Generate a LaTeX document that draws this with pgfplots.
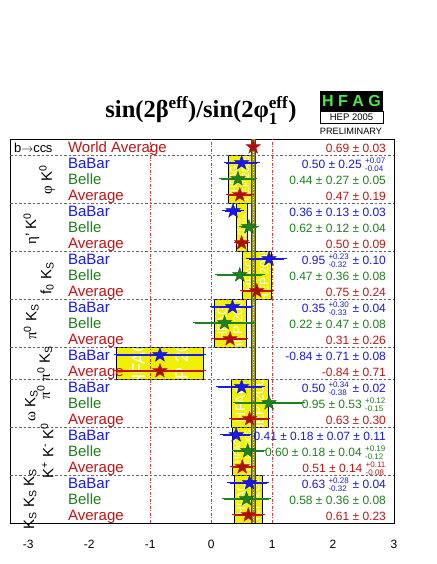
\documentclass[border=0pt]{standalone}
\usepackage{pgfplots}
\pgfplotsset{compat=1.18}
\usepackage{pgfplotstable}
\usepackage{amsmath}
\usepackage{fontspec}
\setmainfont{Liberation Sans}
\newfontfamily\symf{Liberation Serif}
\definecolor{cblue}{RGB}{25,25,235}
\definecolor{cgreen}{RGB}{30,130,30}
\definecolor{cred}{RGB}{195,20,20}
\definecolor{cyel}{RGB}{240,240,0}
\definecolor{colive}{RGB}{150,150,45}
\definecolor{cline}{RGB}{215,60,60}
\definecolor{hfgreen}{RGB}{70,235,70}
\newcommand{\fsL}{\fontsize{15}{15}\selectfont}
\newcommand{\fsV}{\fontsize{12}{12}\selectfont}
\newcommand{\ud}[2]{\ensuremath{^{\text{#1}}_{\text{#2}}}}

\pgfdeclareplotmark{fstar}{%
  \pgfpathmoveto{\pgfpointpolar{90}{\pgfplotmarksize}}%
  \pgfpathlineto{\pgfpointpolar{126}{0.4\pgfplotmarksize}}%
  \pgfpathlineto{\pgfpointpolar{162}{\pgfplotmarksize}}%
  \pgfpathlineto{\pgfpointpolar{198}{0.4\pgfplotmarksize}}%
  \pgfpathlineto{\pgfpointpolar{234}{\pgfplotmarksize}}%
  \pgfpathlineto{\pgfpointpolar{270}{0.4\pgfplotmarksize}}%
  \pgfpathlineto{\pgfpointpolar{306}{\pgfplotmarksize}}%
  \pgfpathlineto{\pgfpointpolar{342}{0.4\pgfplotmarksize}}%
  \pgfpathlineto{\pgfpointpolar{18}{\pgfplotmarksize}}%
  \pgfpathlineto{\pgfpointpolar{54}{0.4\pgfplotmarksize}}%
  \pgfpathclose
  \pgfusepathqfillstroke}

% BaBar: x y errplus errminus
\pgfplotstableread{
x y ep em
0.50 22.5 0.260 0.253
0.36 19.5 0.133 0.133
0.95 16.5 0.251 0.335
0.35 13.5 0.303 0.332
-0.84 10.5 0.714 0.714
0.50 8.5 0.341 0.381
0.41 5.5 0.222 0.222
0.63 2.5 0.283 0.322
}\babar
\pgfplotstableread{
x y ep em
0.44 21.5 0.275 0.275
0.62 18.5 0.126 0.126
0.47 15.5 0.369 0.369
0.22 12.5 0.477 0.477
0.95 7.5 0.543 0.551
0.60 4.5 0.265 0.220
0.58 1.5 0.369 0.369
}\belle
\pgfplotstableread{
x y ep em
0.69 23.5 0.03 0.03
0.47 20.5 0.19 0.19
0.50 17.5 0.09 0.09
0.75 14.5 0.24 0.24
0.31 11.5 0.26 0.26
-0.84 9.5 0.71 0.71
0.63 6.5 0.30 0.30
0.51 3.5 0.178 0.161
0.61 0.5 0.23 0.23
}\avg

% yellow box with watermark: x1 x2 y1 y2 fontsize
\newcommand{\ybox}[5]{%
  \pgfplotsextra{%
    \pgfmathsetmacro{\xa}{#1+0.25*(#2-#1)}%
    \pgfmathsetmacro{\xb}{#1+0.75*(#2-#1)}%
    \pgfmathsetmacro{\ym}{(#3+#4)/2}%
    \fill[cyel] (axis cs:#1,#3) rectangle (axis cs:#2,#4);
    \begin{scope}
      \clip (axis cs:#1,#3) rectangle (axis cs:#2,#4);
      \node[rotate=90, text=white, inner sep=0pt, font=\fontsize{#5}{#5}\selectfont] at (axis cs:\xa,\ym) {HFAG};
      \node[rotate=90, text=white, inner sep=0pt, font=\fontsize{#5}{#5}\selectfont] at (axis cs:\xb,\ym) {HEP 2005};
    \end{scope}
    \draw[black, line width=0.6pt] (axis cs:#1,#3) rectangle (axis cs:#2,#4);
  }}

\begin{document}
\begin{tikzpicture}
\useasboundingbox (0,0) rectangle (436pt,564pt);
% title
\node[anchor=base, font=\symf\bfseries\fontsize{24.5}{24.5}\selectfont, inner sep=0pt] at (201pt,446pt)
  {sin(2β$^{\text{eff}}$)/sin(2φ$^{\text{eff}}_{\text{1}}$)};
% HFAG logo
\fill[black] (320pt,473pt) rectangle (383pt,453pt);
\node[text=hfgreen, font=\bfseries\fontsize{16}{16}\selectfont, inner sep=0pt] at (351.5pt,463pt) {H F A G};
\draw[black, line width=0.8pt] (320pt,453pt) rectangle (383pt,441pt);
\node[font=\fontsize{9.5}{9.5}\selectfont, inner sep=0pt] at (351.5pt,447pt) {HEP 2005};
\node[font=\fontsize{9.2}{9.2}\selectfont, inner sep=0pt] at (351pt,433pt) {PRELIMINARY};

\begin{axis}[
  at={(10pt,41pt)}, anchor=south west,
  scale only axis, width=384pt, height=384pt,
  xmin=-3.3, xmax=3, ymin=0, ymax=24,
  xtick={-3,-2,-1,0,1,2,3},
  ytick=\empty,
  major tick length=0pt,
  xticklabel style={font=\fsV, yshift=-14pt},
  /pgf/number format/assume math mode=true,
  axis line style={black, line width=0.6pt},
  clip=false,
  error bars/error bar style={line width=1.1pt},
  error bars/error mark options={line width=1pt, mark size=2.5pt},
]
% yellow boxes
\ybox{0.28}{0.66}{20}{23}{10}
\ybox{0.41}{0.59}{17}{20}{5.5}
\ybox{0.51}{0.99}{14}{17}{12}
\ybox{0.05}{0.57}{11}{14}{13}
\ybox{-1.55}{-0.13}{9}{11}{18}
\ybox{0.33}{0.93}{6}{9}{14}
\ybox{0.349}{0.688}{3}{6}{9}
\ybox{0.38}{0.84}{0}{3}{12}
% world average band
\fill[colive] (axis cs:0.66,0) rectangle (axis cs:0.72,24);
\draw[black!75, line width=0.7pt] (axis cs:0.66,0) -- (axis cs:0.66,24);
\draw[black!75, line width=0.7pt] (axis cs:0.72,0) -- (axis cs:0.72,24);
\draw[yellow!70!white, line width=0.8pt, dash pattern=on 1pt off 1.5pt] (axis cs:0.69,0) -- (axis cs:0.69,24);
% red reference lines
\foreach \xv in {-1,0,1} {
  \edef\tmp{\noexpand\draw[cline, line width=0.8pt, dash pattern=on 3pt off 1.5pt on 1pt off 1.5pt] (axis cs:\xv,0) -- (axis cs:\xv,24);}\tmp
}
% separators
\foreach \yv in {3,6,9,11,14,17,20,23} {
  \edef\tmp{\noexpand\draw[black!60, line width=0.6pt, dash pattern=on 2.5pt off 2pt] (axis cs:-3.3,\yv) -- (axis cs:3,\yv);}\tmp
}
% points
\addplot[only marks, mark=fstar, mark size=7.5pt, mark options={fill=cblue, draw=cblue!70!black, line width=0.4pt}, draw=cblue,
  error bars/.cd, x dir=both, x explicit, error bar style={cblue}]
  table[x=x, y=y, x error plus=ep, x error minus=em] {\babar};
\addplot[only marks, mark=fstar, mark size=7.5pt, mark options={fill=cgreen, draw=cgreen!70!black, line width=0.4pt}, draw=cgreen,
  error bars/.cd, x dir=both, x explicit, error bar style={cgreen}]
  table[x=x, y=y, x error plus=ep, x error minus=em] {\belle};
\addplot[only marks, mark=fstar, mark size=7.5pt, mark options={fill=cred!85!black, draw=cred, line width=0.4pt}, draw=cred,
  error bars/.cd, x dir=both, x explicit, error bar style={cred}]
  table[x=x, y=y, x error plus=ep, x error minus=em] {\avg};

% row labels
\node[anchor=base west, font=\fontsize{13}{13}\selectfont, inner sep=0pt] at (axis cs:-3.235,23.15) {b$\rightarrow$cc\kern-0.05em s};
\node[anchor=base west, font=\fsL, text=cred, inner sep=0pt] at (axis cs:-2.35,23.15) {World Average};
\foreach \yb in {22.5,19.5,16.5,13.5,10.5,8.5,5.5,2.5} {
  \edef\tmp{\noexpand\node[anchor=base west, font=\noexpand\fsL, text=cblue, inner sep=0pt] at (axis cs:-2.35,\yb-0.35) {BaBar};}\tmp
}
\foreach \yb in {21.5,18.5,15.5,12.5,7.5,4.5,1.5} {
  \edef\tmp{\noexpand\node[anchor=base west, font=\noexpand\fsL, text=cgreen, inner sep=0pt] at (axis cs:-2.35,\yb-0.35) {Belle};}\tmp
}
\foreach \yb in {20.5,17.5,14.5,11.5,9.5,6.5,3.5,0.5} {
  \edef\tmp{\noexpand\node[anchor=base west, font=\noexpand\fsL, text=cred, inner sep=0pt] at (axis cs:-2.35,\yb-0.35) {Average};}\tmp
}
% channel labels
\node[rotate=90, font=\fsL, inner sep=0pt] at (axis cs:-2.69,21.45) {{\symf φ} K\textsuperscript{0}};
\node[rotate=90, font=\fsL, inner sep=0pt] at (axis cs:-2.95,18.4) {{\symf η}' K\textsuperscript{0}};
\node[rotate=90, font=\fsL, inner sep=0pt] at (axis cs:-2.69,15.3) {f\textsubscript{0} K\textsubscript{S}};
\node[rotate=90, font=\fsL, inner sep=0pt] at (axis cs:-2.95,12.55) {{\symf π}\textsuperscript{0} K\textsubscript{S}};
\node[rotate=90, font=\fsL, inner sep=0pt] at (axis cs:-2.73,9.4) {{\symf π}\textsuperscript{0} {\symf π}\textsuperscript{0} K\textsubscript{S}};
\node[rotate=90, font=\fsL, inner sep=0pt] at (axis cs:-2.95,7.3) {{\symf ω} K\textsubscript{S}};
\node[rotate=90, font=\fsL, inner sep=0pt] at (axis cs:-2.69,4.5) {K\textsuperscript{+} K\textsuperscript{-} K\textsuperscript{0}};
\node[rotate=90, font=\fsL, inner sep=0pt] at (axis cs:-2.97,1.5) {K\textsubscript{S} K\textsubscript{S} K\textsubscript{S}};

% values
\newcommand{\val}[3]{\node[anchor=base east, font=\fsV, text=#2, inner sep=0pt] at (axis cs:2.87,#1-0.33) {#3};}
\val{23.5}{cred}{0.69 ± 0.03}
\val{22.5}{cblue}{0.50 ± 0.25 \ud{+0.07}{-0.04}}
\val{21.5}{cgreen}{0.44 ± 0.27 ± 0.05}
\val{20.5}{cred}{0.47 ± 0.19}
\val{19.5}{cblue}{0.36 ± 0.13 ± 0.03}
\val{18.5}{cgreen}{0.62 ± 0.12 ± 0.04}
\val{17.5}{cred}{0.50 ± 0.09}
\val{16.5}{cblue}{0.95 \ud{+0.23}{-0.32} ± 0.10}
\val{15.5}{cgreen}{0.47 ± 0.36 ± 0.08}
\val{14.5}{cred}{0.75 ± 0.24}
\val{13.5}{cblue}{0.35 \ud{+0.30}{-0.33} ± 0.04}
\val{12.5}{cgreen}{0.22 ± 0.47 ± 0.08}
\val{11.5}{cred}{0.31 ± 0.26}
\val{10.5}{cblue}{-0.84 ± 0.71 ± 0.08}
\val{9.5}{cred}{-0.84 ± 0.71}
\val{8.5}{cblue}{0.50 \ud{+0.34}{-0.38} ± 0.02}
\val{7.5}{cgreen}{0.95 ± 0.53 \ud{+0.12}{-0.15}}
\val{6.5}{cred}{0.63 ± 0.30}
\val{5.5}{cblue}{0.41 ± 0.18 ± 0.07 ± 0.11}
\val{4.5}{cgreen}{0.60 ± 0.18 ± 0.04 \ud{+0.19}{-0.12}}
\val{3.5}{cred}{0.51 ± 0.14 \ud{+0.11}{-0.08}}
\val{2.5}{cblue}{0.63 \ud{+0.28}{-0.32} ± 0.04}
\val{1.5}{cgreen}{0.58 ± 0.36 ± 0.08}
\val{0.5}{cred}{0.61 ± 0.23}
\end{axis}
\end{tikzpicture}
\end{document}
